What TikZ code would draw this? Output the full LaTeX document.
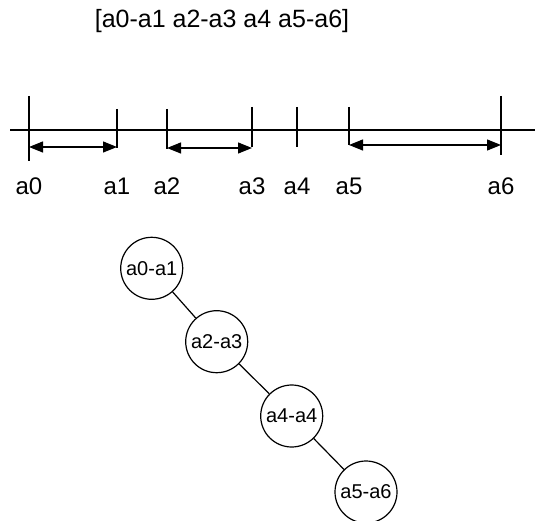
\documentclass[tikz,border=0pt]{standalone}
\usepackage{fontspec}
\setmainfont{Liberation Sans}
\usetikzlibrary{arrows.meta}

\begin{document}
\begin{tikzpicture}[x=1pt, y=-1pt, line width=1.2pt, >={Triangle[length=14pt,width=11pt]},
    lbl/.style={inner sep=0pt, font=\fontsize{24}{28}\selectfont},
    seg/.style={circle, draw, minimum size=62pt, inner sep=0pt, font=\fontsize{20}{24}\selectfont}]
  \useasboundingbox (0,0) rectangle (535,521);
  % the interval list
  \node[lbl, font=\fontsize{25}{30}\selectfont] (title) at (222,21) {[a0-a1 a2-a3 a4 a5-a6]};
  % number line
  \coordinate (axL) at (10,130);
  \coordinate (axR) at (535,130);
  \draw (axL) -- (axR);
  % ticks and their labels
  \foreach \n/\x/\t/\b in {a0/29/96/161, a1/117/109/148, a2/167/109/149, a3/252/107/147,
                           a4/297/107/147, a5/349/107/145, a6/501/96/155} {
    \coordinate (\n-top) at (\x,\t);
    \coordinate (\n-bot) at (\x,\b);
    \draw (\n-top) -- (\n-bot);
    \node[lbl] (lab-\n) at (\x,186) {\n};
  }
  % interval arrows
  \foreach \s/\e/\y in {a0/a1/147, a2/a3/148, a5/a6/145}
    \draw[<->] (\s-top |- 0,\y) -- (\e-top |- 0,\y);
  % chain of segments
  \node[seg] (s01) at (151.7,268.3) {a0-a1};
  \node[seg] (s23) at (216.7,341.7) {a2-a3};
  \node[seg] (s44) at (291.7,416) {a4-a4};
  \node[seg] (s56) at (366,492) {a5-a6};
  \draw (s01) -- (s23);
  \draw (s23) -- (s44);
  \draw (s44) -- (s56);
\end{tikzpicture}
\end{document}
